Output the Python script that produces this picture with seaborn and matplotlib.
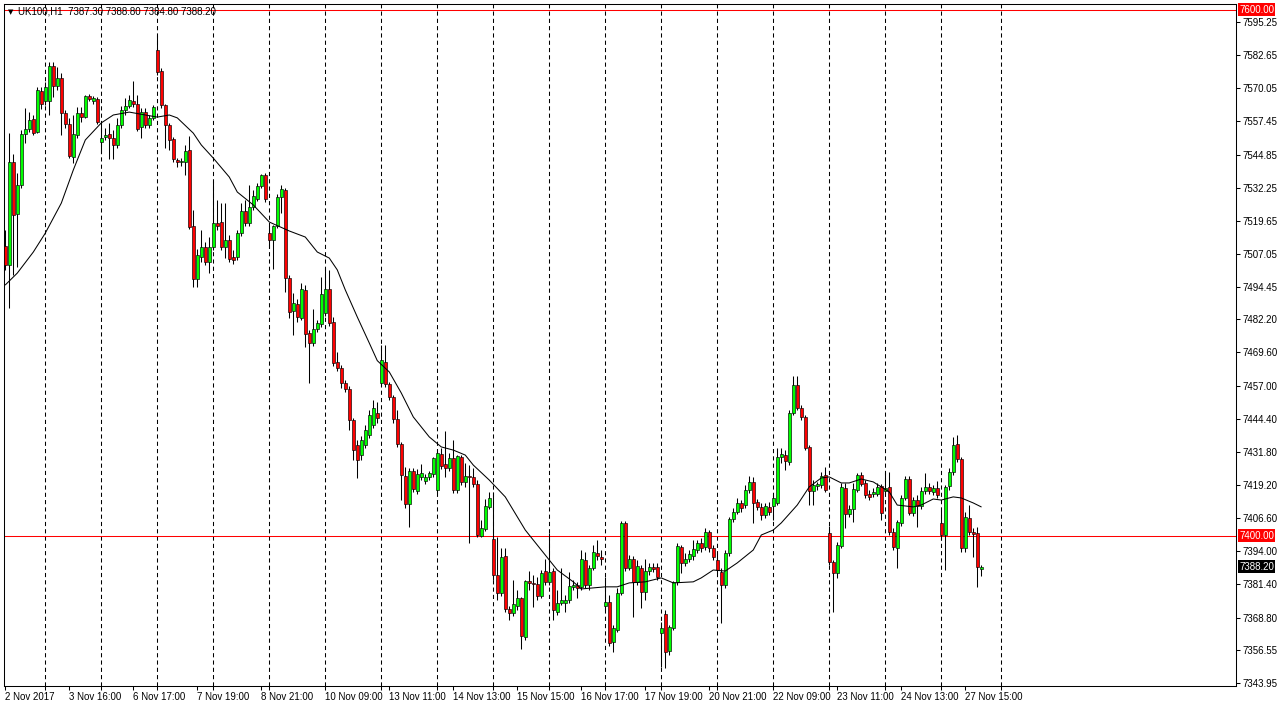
import numpy as np
import pandas as pd
import matplotlib
matplotlib.use("Agg")
import matplotlib.pyplot as plt
import matplotlib.transforms as mtransforms
import seaborn as sns

# UK100 H1 candles (bar 0 = first bar on screen)
opens = [
    7510.1, 7502.9, 7542.0, 7522.2, 7533.3, 7552.7, 7554.6, 7558.4, 7553.4, 7569.0,
    7565.2, 7565.2, 7578.5, 7570.9, 7573.9, 7560.6, 7556.5, 7543.9, 7552.3, 7560.6,
    7559.1, 7567.1, 7565.2, 7566.0, 7549.6, 7551.5, 7552.7, 7551.1, 7548.5, 7556.1,
    7561.8, 7563.3, 7565.2, 7564.1, 7555.3, 7561.0, 7556.1, 7558.7, 7584.6, 7576.6,
    7563.7, 7556.1, 7550.8, 7542.8, 7542.0, 7542.0, 7546.6, 7517.7, 7497.5, 7505.9,
    7509.7, 7504.0, 7509.7, 7518.8, 7519.2, 7509.7, 7512.4, 7505.9, 7505.9, 7515.0,
    7523.4, 7518.8, 7524.9, 7527.9, 7532.9, 7537.1, 7515.0, 7512.4, 7517.7, 7528.7,
    7531.4, 7497.9, 7485.4, 7488.0, 7482.7, 7493.4, 7477.0, 7473.2, 7478.5, 7480.4,
    7484.6, 7493.7, 7481.2, 7466.0, 7463.7, 7458.0, 7455.7, 7443.9, 7434.4, 7430.6,
    7434.4, 7438.2, 7442.0, 7446.6, 7458.0, 7466.0, 7457.6, 7452.7, 7444.3, 7434.8,
    7422.6, 7412.0, 7424.5, 7416.9, 7422.3, 7420.7, 7422.3, 7423.4, 7417.3, 7431.0,
    7427.2, 7425.7, 7429.5, 7417.3, 7429.9, 7420.4, 7422.6, 7422.3, 7419.6, 7399.8,
    7402.5, 7410.8, 7398.7, 7385.0, 7378.2, 7392.2, 7372.1, 7370.5, 7373.2, 7376.3,
    7361.4, 7382.7, 7382.0, 7381.6, 7377.0, 7386.5, 7382.3, 7386.5, 7370.9, 7374.4,
    7374.4, 7375.5, 7380.5, 7381.2, 7380.5, 7390.7, 7381.2, 7387.7, 7393.3, 7391.8,
    7373.2, 7374.7, 7359.5, 7364.1, 7378.2, 7404.8, 7387.7, 7391.1, 7382.3, 7387.7,
    7378.5, 7386.5, 7388.0, 7388.0, 7362.9, 7370.2, 7356.1, 7364.8, 7382.3, 7395.6,
    7389.6, 7391.1, 7392.2, 7394.5, 7397.2, 7395.6, 7401.4, 7395.3, 7390.7, 7386.1,
    7381.2, 7393.3, 7406.3, 7408.9, 7412.4, 7411.6, 7417.3, 7420.4, 7412.8, 7410.8,
    7407.8, 7410.8, 7411.2, 7412.4, 7429.9, 7430.6, 7428.0, 7446.6, 7457.2, 7448.5,
    7445.1, 7433.7, 7416.9, 7418.8, 7419.2, 7423.0, 7401.0, 7389.9, 7385.8, 7396.0,
    7418.1, 7408.2, 7410.1, 7417.3, 7423.0, 7420.0, 7415.8, 7415.8, 7415.8, 7418.8,
    7416.9, 7418.4, 7401.4, 7395.3, 7404.8, 7414.3, 7421.5, 7408.6, 7413.5, 7411.2,
    7416.9, 7418.4, 7416.5, 7418.1, 7404.8, 7400.2, 7418.8, 7424.2, 7434.8, 7429.1,
    7395.3, 7406.7, 7401.4, 7401.0, 7387.3,
]
highs = [
    7516.2, 7553.0, 7545.0, 7537.8, 7554.2, 7562.5, 7561.0, 7559.9, 7570.5, 7570.5,
    7572.4, 7580.0, 7580.0, 7578.1, 7575.9, 7561.8, 7558.7, 7559.9, 7562.9, 7562.9,
    7567.5, 7567.9, 7567.1, 7566.7, 7557.2, 7554.9, 7556.8, 7554.2, 7558.7, 7563.3,
    7566.4, 7567.5, 7572.8, 7567.5, 7562.5, 7562.5, 7559.9, 7563.7, 7590.3, 7577.8,
    7564.1, 7556.8, 7551.5, 7543.5, 7543.5, 7548.5, 7551.9, 7523.8, 7508.9, 7516.2,
    7511.6, 7513.5, 7534.8, 7527.6, 7526.4, 7526.4, 7514.3, 7508.6, 7516.2, 7526.4,
    7527.6, 7533.3, 7531.4, 7534.0, 7537.5, 7537.8, 7517.7, 7518.1, 7529.9, 7533.3,
    7532.1, 7499.1, 7492.2, 7489.9, 7496.0, 7495.2, 7478.1, 7486.1, 7481.9, 7498.3,
    7501.7, 7501.0, 7483.1, 7469.8, 7464.8, 7459.1, 7456.9, 7444.7, 7436.3, 7437.8,
    7442.0, 7447.7, 7451.5, 7450.8, 7472.4, 7472.4, 7458.4, 7453.4, 7447.7, 7435.5,
    7426.1, 7425.7, 7425.7, 7425.3, 7427.2, 7423.4, 7424.5, 7429.9, 7432.5, 7433.3,
    7439.7, 7431.4, 7436.3, 7430.6, 7430.6, 7427.6, 7426.8, 7425.7, 7421.1, 7405.9,
    7413.9, 7416.5, 7416.5, 7399.4, 7395.3, 7395.3, 7373.2, 7383.1, 7379.3, 7376.6,
    7383.1, 7386.5, 7385.0, 7384.2, 7386.9, 7391.1, 7401.0, 7387.7, 7379.3, 7387.7,
    7377.4, 7386.1, 7383.1, 7382.3, 7394.5, 7393.7, 7388.8, 7396.4, 7398.3, 7394.5,
    7384.2, 7377.4, 7366.0, 7380.1, 7405.5, 7405.5, 7392.6, 7392.2, 7390.7, 7388.8,
    7391.1, 7389.6, 7389.6, 7389.6, 7367.1, 7371.7, 7366.0, 7382.7, 7397.2, 7396.4,
    7393.3, 7394.5, 7398.3, 7398.3, 7399.1, 7402.9, 7402.1, 7396.4, 7393.3, 7387.7,
    7394.5, 7407.0, 7410.5, 7414.3, 7413.5, 7419.2, 7422.6, 7422.3, 7413.9, 7412.4,
    7412.4, 7412.8, 7415.4, 7433.3, 7433.3, 7432.5, 7447.7, 7460.6, 7460.6, 7449.6,
    7445.8, 7434.4, 7421.1, 7420.4, 7424.2, 7426.1, 7403.6, 7390.7, 7397.5, 7420.0,
    7420.0, 7411.6, 7420.0, 7423.8, 7424.2, 7421.1, 7417.3, 7418.1, 7420.0, 7419.6,
    7424.2, 7424.2, 7402.9, 7405.9, 7415.4, 7422.6, 7422.6, 7414.6, 7415.4, 7418.4,
    7423.8, 7420.0, 7419.2, 7420.7, 7409.7, 7419.2, 7425.7, 7437.4, 7438.2, 7429.9,
    7408.9, 7411.6, 7402.9, 7403.3, 7388.8,
]
lows = [
    7501.0, 7486.5, 7499.1, 7502.1, 7532.1, 7549.2, 7553.4, 7552.3, 7553.0, 7562.2,
    7563.7, 7559.9, 7566.7, 7569.4, 7552.3, 7554.9, 7543.5, 7541.6, 7551.1, 7557.2,
    7558.7, 7565.2, 7564.1, 7556.5, 7545.4, 7550.4, 7543.1, 7543.1, 7547.3, 7554.9,
    7559.9, 7562.5, 7562.9, 7553.8, 7551.1, 7554.9, 7554.9, 7558.0, 7575.1, 7562.5,
    7547.3, 7546.6, 7542.0, 7540.1, 7540.5, 7537.1, 7516.5, 7494.5, 7494.5, 7504.0,
    7502.9, 7499.8, 7508.6, 7516.2, 7508.6, 7505.5, 7504.0, 7503.2, 7504.8, 7513.9,
    7517.7, 7517.7, 7523.8, 7527.2, 7532.1, 7526.8, 7509.3, 7501.4, 7516.9, 7522.6,
    7492.6, 7482.7, 7476.2, 7481.2, 7481.9, 7471.7, 7458.0, 7472.1, 7477.4, 7479.3,
    7483.5, 7479.7, 7464.5, 7462.6, 7456.1, 7454.6, 7440.1, 7428.7, 7421.9, 7428.7,
    7433.3, 7437.1, 7440.9, 7442.8, 7456.9, 7456.5, 7451.5, 7442.8, 7433.7, 7413.5,
    7410.5, 7403.3, 7416.5, 7415.8, 7421.1, 7419.6, 7421.1, 7422.3, 7416.2, 7425.3,
    7422.3, 7424.5, 7416.2, 7416.2, 7419.2, 7418.4, 7397.2, 7418.4, 7399.4, 7399.4,
    7401.7, 7410.1, 7383.1, 7375.5, 7377.0, 7370.9, 7367.9, 7369.4, 7371.7, 7356.8,
    7360.3, 7379.3, 7372.8, 7375.5, 7376.3, 7381.2, 7381.2, 7367.9, 7369.8, 7373.6,
    7370.9, 7374.4, 7379.3, 7376.3, 7379.3, 7380.1, 7379.3, 7386.9, 7390.7, 7388.8,
    7371.7, 7358.0, 7355.7, 7363.3, 7377.4, 7386.5, 7386.9, 7369.0, 7381.2, 7372.5,
    7375.5, 7385.0, 7386.1, 7383.1, 7350.0, 7349.6, 7354.6, 7364.1, 7381.2, 7385.8,
    7388.4, 7389.9, 7390.7, 7393.3, 7393.7, 7394.5, 7393.7, 7390.7, 7385.8, 7366.7,
    7380.1, 7392.2, 7405.2, 7408.2, 7408.9, 7410.5, 7416.2, 7404.8, 7409.7, 7405.9,
    7406.7, 7407.8, 7405.9, 7411.6, 7427.6, 7424.9, 7426.8, 7445.8, 7447.7, 7443.9,
    7432.5, 7411.6, 7411.6, 7417.3, 7418.1, 7416.5, 7388.8, 7370.9, 7383.9, 7395.3,
    7402.9, 7407.0, 7405.2, 7416.5, 7418.8, 7414.3, 7413.5, 7414.6, 7415.0, 7405.9,
    7415.8, 7400.2, 7394.5, 7387.7, 7403.6, 7413.5, 7407.8, 7407.4, 7403.3, 7410.1,
    7415.8, 7415.8, 7415.4, 7414.3, 7398.3, 7386.9, 7417.3, 7423.0, 7428.0, 7393.7,
    7393.7, 7400.2, 7391.8, 7380.5, 7384.8,
]
closes = [
    7502.9, 7542.0, 7521.9, 7533.3, 7552.7, 7554.6, 7558.0, 7553.0, 7569.4, 7564.1,
    7570.5, 7578.5, 7570.9, 7573.9, 7560.6, 7556.5, 7544.3, 7552.7, 7560.6, 7559.1,
    7567.1, 7566.0, 7566.4, 7557.2, 7551.1, 7552.3, 7551.1, 7548.5, 7556.1, 7561.8,
    7563.3, 7565.6, 7564.1, 7554.6, 7561.0, 7556.1, 7558.7, 7562.9, 7576.2, 7563.7,
    7556.1, 7550.4, 7543.1, 7542.0, 7542.4, 7546.2, 7517.3, 7497.5, 7506.7, 7509.7,
    7504.0, 7509.7, 7518.8, 7517.7, 7509.7, 7512.4, 7505.1, 7504.8, 7515.0, 7523.4,
    7518.8, 7524.9, 7529.1, 7532.9, 7537.1, 7527.9, 7512.4, 7517.7, 7528.7, 7531.7,
    7497.9, 7485.0, 7488.4, 7483.1, 7493.7, 7476.6, 7473.2, 7478.5, 7480.8, 7491.8,
    7493.7, 7480.8, 7465.6, 7463.7, 7458.0, 7455.7, 7443.9, 7432.5, 7428.7, 7436.3,
    7440.1, 7445.8, 7448.5, 7444.7, 7466.7, 7457.6, 7452.7, 7444.3, 7434.8, 7423.0,
    7412.0, 7424.5, 7417.7, 7423.4, 7423.8, 7422.3, 7423.8, 7429.5, 7431.4, 7426.4,
    7425.7, 7429.5, 7417.3, 7430.2, 7420.4, 7422.6, 7422.3, 7419.6, 7400.2, 7402.9,
    7411.2, 7414.3, 7385.0, 7378.2, 7391.8, 7372.1, 7370.5, 7374.0, 7376.3, 7361.8,
    7382.7, 7382.0, 7381.6, 7377.0, 7385.8, 7382.3, 7386.1, 7371.7, 7374.4, 7375.5,
    7375.5, 7380.8, 7381.2, 7380.1, 7391.1, 7381.2, 7387.7, 7393.7, 7392.2, 7391.1,
    7374.7, 7359.1, 7364.8, 7378.2, 7404.8, 7387.7, 7391.1, 7382.3, 7388.4, 7378.5,
    7386.5, 7388.0, 7387.3, 7384.2, 7364.8, 7355.7, 7365.2, 7382.3, 7396.0, 7389.6,
    7391.1, 7393.0, 7394.9, 7397.2, 7395.3, 7401.4, 7395.3, 7391.8, 7386.9, 7381.2,
    7393.3, 7406.3, 7408.9, 7412.4, 7410.5, 7417.3, 7420.4, 7412.4, 7410.8, 7407.8,
    7411.2, 7408.9, 7414.3, 7429.9, 7431.0, 7428.3, 7446.6, 7457.2, 7448.5, 7445.1,
    7433.3, 7416.9, 7419.2, 7419.6, 7422.6, 7417.3, 7389.9, 7385.8, 7396.4, 7418.4,
    7408.2, 7410.1, 7417.7, 7423.0, 7419.6, 7415.4, 7414.6, 7416.5, 7418.4, 7408.6,
    7418.1, 7401.4, 7395.6, 7405.2, 7414.3, 7421.5, 7408.6, 7413.5, 7411.2, 7416.9,
    7418.4, 7416.9, 7418.1, 7415.4, 7400.2, 7418.4, 7424.2, 7434.4, 7429.1, 7395.3,
    7407.0, 7401.4, 7400.6, 7388.0, 7388.2,
]

# moving average line, read at these bars
ma_bars = [0, 3, 7, 10, 14, 17, 20, 24, 27, 31, 35, 38, 41, 43, 47, 49, 52, 56, 58, 62,
           66, 71, 75, 78, 81, 83, 85, 88, 91, 93, 96, 99, 102, 106, 109, 112, 115, 117, 121, 125,
           130, 134, 138, 142, 144, 147, 150, 153, 156, 160, 164, 167, 172, 174, 177, 180, 183, 187, 189, 192,
           194, 198, 201, 204, 206, 209, 211, 214, 217, 221, 223, 227, 229, 232, 234, 237, 239, 242, 244]
ma_values = [7495.3, 7499.8, 7507.8, 7515.0, 7526.4, 7539.0, 7550.4, 7556.9, 7559.9, 7561.0,
             7559.9, 7559.1, 7559.9, 7558.8, 7553.0, 7548.5, 7543.5, 7536.3, 7530.6, 7525.7,
             7519.2, 7515.8, 7513.5, 7507.8, 7505.5, 7501.0, 7493.4, 7483.1, 7473.2, 7466.5,
             7462.2, 7454.2, 7445.1, 7437.5, 7433.7, 7432.5, 7430.6, 7426.8, 7421.1, 7414.7,
             7402.1, 7394.5, 7386.9, 7382.4, 7379.7, 7380.1, 7380.5, 7380.5, 7382.0, 7382.4,
             7383.9, 7382.0, 7382.4, 7383.9, 7386.9, 7386.5, 7389.6, 7394.5, 7400.2, 7402.1,
             7404.8, 7411.6, 7418.5, 7421.9, 7422.3, 7420.0, 7420.0, 7421.5, 7420.4, 7416.6,
             7411.6, 7410.9, 7411.6, 7413.9, 7413.5, 7414.7, 7414.3, 7412.4, 7410.9]

time_labels = ['2 Nov 2017', '3 Nov 16:00', '6 Nov 17:00', '7 Nov 19:00', '8 Nov 21:00',
               '10 Nov 09:00', '13 Nov 11:00', '14 Nov 13:00', '15 Nov 15:00', '16 Nov 17:00',
               '17 Nov 19:00', '20 Nov 21:00', '22 Nov 09:00', '23 Nov 11:00', '24 Nov 13:00',
               '27 Nov 15:00']
label_bars = [16 * k for k in range(len(time_labels))]
day_bars = [10 + 14 * k for k in range(17)] + [249]

price_ticks = [7595.25, 7582.65, 7570.05, 7557.45, 7544.85, 7532.25, 7519.65, 7507.05,
               7494.45, 7482.20, 7469.60, 7457.00, 7444.40, 7431.80, 7419.20, 7406.60,
               7394.00, 7381.40, 7368.80, 7356.55, 7343.95]
level_lines = [7600.00, 7400.00]
last_price = 7388.20

sns.set_style("white")
plt.rcParams['font.family'] = ['Liberation Sans', 'DejaVu Sans']

df = pd.DataFrame({'open': opens, 'high': highs, 'low': lows, 'close': closes})
df['bar'] = np.arange(len(df))
df['up'] = df['close'] >= df['open']
df['body_lo'] = df[['open', 'close']].min(axis=1)
df['body_h'] = (df['close'] - df['open']).abs().clip(lower=0.4)

fig = plt.figure(figsize=(12.82, 7.08), dpi=100)
ax = fig.add_axes([4 / 1282, 22 / 708, 1232 / 1282, 682 / 708])

for b in day_bars:
    ax.axvline(b, color='black', lw=0.75, ls=(0, (4, 3)), zorder=1)
for lv in level_lines:
    ax.axhline(lv, color='red', lw=0.75, zorder=1)

ax.vlines(df['bar'], df['low'], df['high'], color='black', lw=0.75, zorder=2)
up = df[df['up']]
dn = df[~df['up']]
ax.bar(up['bar'], up['body_h'], bottom=up['body_lo'], width=0.72,
       color='#00ff00', edgecolor='black', linewidth=0.45, zorder=3)
ax.bar(dn['bar'], dn['body_h'], bottom=dn['body_lo'], width=0.72,
       color='#ff0000', edgecolor='black', linewidth=0.45, zorder=3)

sns.lineplot(x=ma_bars, y=ma_values, color='black', lw=0.75, ax=ax, zorder=4)

ax.set_xlim(-0.33, 307.7)
ax.set_ylim(7342.8, 7602.1)

ax.yaxis.tick_right()
ax.set_yticks(price_ticks)
ax.set_yticklabels([f"{v:.2f}" for v in price_ticks])
ax.tick_params(axis='y', direction='out', length=3, width=0.75, pad=2,
               labelsize=7, colors='black', right=True, left=False)

ax.set_xticks(label_bars)
ax.set_xticklabels(time_labels)
for lbl in ax.get_xticklabels():
    lbl.set_horizontalalignment('left')
ax.set_xticks(day_bars, minor=True)
ax.tick_params(axis='x', which='both', direction='out', length=3, width=0.75,
               pad=1, labelsize=7, colors='black', bottom=True)
ax.set_xlabel('')
ax.set_ylabel('')

for s in ax.spines.values():
    s.set_color('black')
    s.set_linewidth(0.75)

# highlighted price boxes on the scale
trans = mtransforms.blended_transform_factory(ax.transAxes, ax.transData)
for val, bg in [(7600.00, '#ff0000'), (7400.00, '#ff0000'), (last_price, 'black')]:
    ax.text(1.0 + 3 / 1232, val, f"{val:.2f}", transform=trans, ha='left', va='center',
            fontsize=7, color='white', zorder=6, clip_on=False,
            bbox=dict(boxstyle='square,pad=0.15', facecolor=bg, edgecolor='none'))

ax.text(4 / 1232, 1 - 8 / 682, "\u25bc", transform=ax.transAxes, ha='left', va='center',
        fontsize=5, color='black', family=['DejaVu Sans'])
ax.text(14 / 1232, 1 - 8 / 682, "UK100,H1  7387.30 7388.80 7384.80 7388.20",
        transform=ax.transAxes, ha='left', va='center', fontsize=7, color='black')

fig.savefig('out.png', dpi=100)
